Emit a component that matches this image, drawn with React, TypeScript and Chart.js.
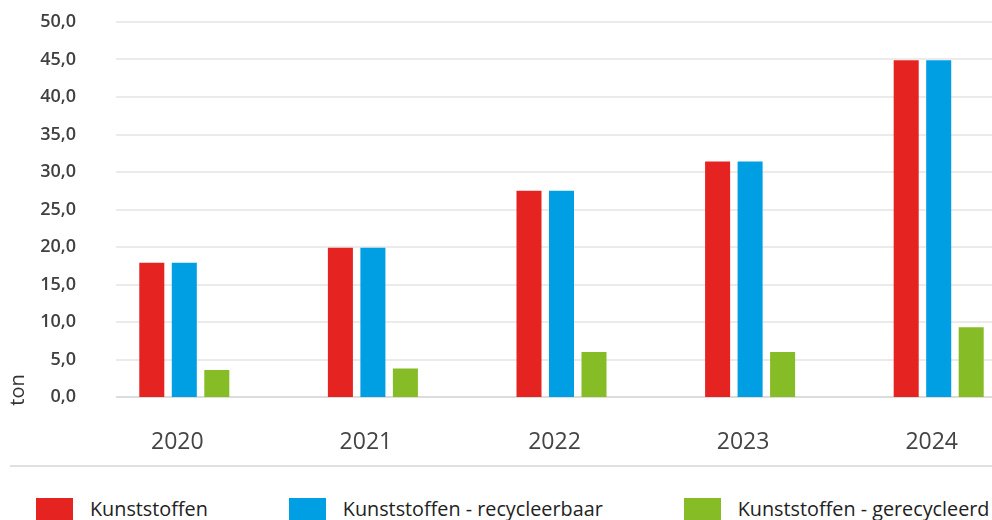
import React, { useEffect, useRef } from 'react';
import { Chart, registerables } from 'chart.js';

Chart.register(...registerables);

const categories = ['2020', '2021', '2022', '2023', '2024'];
const kunststoffen = [17.9, 19.9, 27.5, 31.4, 44.9];
const recycleerbaar = [17.9, 19.9, 27.5, 31.4, 44.9];
const gerecycleerd = [3.6, 3.8, 6.0, 6.0, 9.3];
const seriesNames = ['Kunststoffen', 'Kunststoffen - recycleerbaar', 'Kunststoffen - gerecycleerd'];
const seriesColors = ['#E52421', '#009FE3', '#86BC25'];
const yAxisTitle = 'ton';
const yMin = 0;
const yMax = 50;
const yStep = 5;

const FONT = "'Open Sans', sans-serif";

const fmt = (v: number) => Number(v).toFixed(1).replace('.', ',');

const customPlugin = {
  id: 'customGridAndTitle',
  beforeDatasetsDraw(chart: any) {
    const { ctx, chartArea, scales } = chart;
    const y = scales.y;
    ctx.save();
    y.ticks.forEach((t: any) => {
      const py = Math.round(y.getPixelForValue(t.value));
      ctx.beginPath();
      ctx.lineWidth = 2;
      ctx.strokeStyle = t.value === 0 ? '#dcdcdc' : '#ebebeb';
      ctx.moveTo(chartArea.left + 26, py);
      ctx.lineTo(chartArea.right + 20, py);
      ctx.stroke();
    });
    ctx.restore();
  },
  afterDraw(chart: any) {
    const { ctx, chartArea } = chart;
    ctx.save();
    ctx.translate(18, chartArea.bottom - 7);
    ctx.rotate(-Math.PI / 2);
    ctx.textAlign = 'center';
    ctx.textBaseline = 'middle';
    ctx.font = `20px ${FONT}`;
    ctx.fillStyle = '#333333';
    ctx.fillText(yAxisTitle, 0, 0);
    ctx.restore();
  },
};

export default function App() {
  const ref = useRef<HTMLCanvasElement>(null);

  useEffect(() => {
    const seriesData = [kunststoffen, recycleerbaar, gerecycleerd];
    const chart = new Chart(ref.current as HTMLCanvasElement, {
      type: 'bar',
      data: {
        labels: categories,
        datasets: seriesNames.map((name, i) => ({
          label: name,
          data: seriesData[i],
          backgroundColor: seriesColors[i],
          borderWidth: 0,
          categoryPercentage: 0.517,
          barPercentage: 0.77,
        })),
      },
      options: {
        responsive: false,
        animation: false,
        devicePixelRatio: 1,
        layout: { padding: { top: 22, right: 7, left: 0, bottom: 0 } },
        plugins: {
          legend: { display: false },
          tooltip: { enabled: false },
        },
        scales: {
          x: {
            grid: { display: false },
            border: { display: false },
            ticks: {
              font: { family: FONT, size: 23 },
              color: '#444444',
              padding: 24,
              labelOffset: -7,
              maxRotation: 0,
            },
            afterFit: (s: any) => {
              s.height = 60;
            },
          },
          y: {
            min: yMin,
            max: yMax,
            grid: { display: false },
            border: { display: false },
            ticks: {
              stepSize: yStep,
              callback: (v: any) => fmt(v),
              font: { family: FONT, size: 18, weight: '600' },
              color: '#404040',
              padding: 6,
            },
            afterFit: (s: any) => {
              s.width = 90;
            },
          },
        },
      },
      plugins: [customPlugin],
    } as any);
    return () => chart.destroy();
  }, []);

  return (
    <div
      style={{
        position: 'absolute',
        left: 0,
        top: 0,
        width: 992,
        height: 520,
        overflow: 'hidden',
        background: '#ffffff',
        fontFamily: FONT,
      }}
    >
      <div style={{ position: 'absolute', left: 0, top: 0, width: 1040, height: 457 }}>
        <canvas ref={ref} width={1040} height={457} />
      </div>
      <div
        style={{
          position: 'absolute',
          left: 10,
          top: 465,
          width: 1100,
          height: 2,
          background: '#e0e0e0',
        }}
      />
      <div
        style={{
          position: 'absolute',
          left: 36,
          top: 498,
          display: 'flex',
          gap: 81,
          whiteSpace: 'nowrap',
        }}
      >
        {seriesNames.map((n, i) => (
          <div key={n} style={{ display: 'flex', alignItems: 'center' }}>
            <span
              style={{
                display: 'inline-block',
                width: 37,
                height: 22,
                background: seriesColors[i],
                marginRight: 17,
              }}
            />
            <span style={{ fontSize: 19.8, color: '#222222', lineHeight: '22px' }}>{n}</span>
          </div>
        ))}
      </div>
    </div>
  );
}
